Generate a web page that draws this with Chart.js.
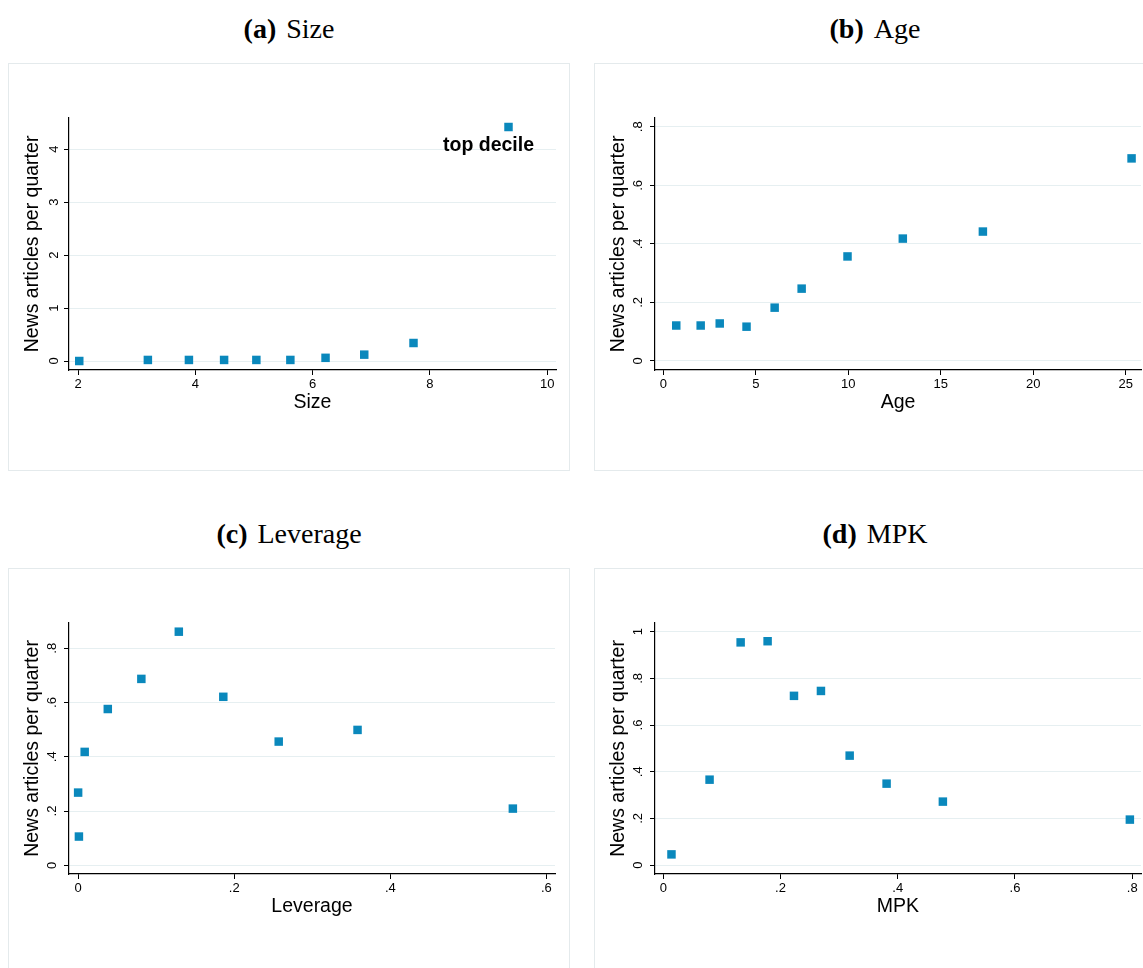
<!DOCTYPE html>
<html>
<head>
<meta charset="utf-8">
<script src="https://cdn.jsdelivr.net/npm/chart.js@4.4.1/dist/chart.umd.min.js"></script>
<style>
  html, body { margin: 0; padding: 0; background: #fff; width: 1143px; height: 968px; overflow: hidden; }
  .panel { position: absolute; width: 562px; height: 408px; box-sizing: border-box; border: 1px solid #e4eaec; }
  .panel canvas { position: absolute; left: -1px; top: -1px; }
  .title { position: absolute; width: 562px; text-align: center; font-family: "Liberation Serif", serif;
           font-size: 28px; line-height: 34px; color: #000; }
  .title b { margin-right: 10px; }
</style>
</head>
<body>

<div class="title" style="left:8px; top:12px;"><b>(a)</b>Size</div>
<div class="title" style="left:594px; top:12px;"><b>(b)</b>Age</div>
<div class="title" style="left:8px; top:517px;"><b>(c)</b>Leverage</div>
<div class="title" style="left:594px; top:517px;"><b>(d)</b>MPK</div>

<div class="panel" style="left:8px; top:63px;"><canvas id="size-chart" width="562" height="408"></canvas></div>
<div class="panel" style="left:594px; top:63px;"><canvas id="age-chart" width="562" height="408"></canvas></div>
<div class="panel" style="left:8px; top:568px;"><canvas id="lev-chart" width="562" height="408"></canvas></div>
<div class="panel" style="left:594px; top:568px;"><canvas id="mpk-chart" width="562" height="408"></canvas></div>

<script>
// Datos: articulos por trimestre segun decil
const sizeX = [2.02, 3.19, 3.89, 4.49, 5.04, 5.62, 6.22, 6.88, 7.72, 9.34];
const sizeY = [0.00, 0.02, 0.02, 0.02, 0.02, 0.02, 0.06, 0.12, 0.34, 4.42];
const sizeLabels = ['', '', '', '', '', '', '', '', '', 'top decile'];

const ageX = [0.70, 2.02, 3.05, 4.50, 6.02, 7.48, 9.96, 12.95, 17.28, 25.32];
const ageY = [0.121, 0.121, 0.128, 0.117, 0.182, 0.247, 0.357, 0.418, 0.442, 0.692];

const levX = [0.000, 0.001, 0.0084, 0.038, 0.081, 0.129, 0.186, 0.257, 0.358, 0.557];
const levY = [0.268, 0.106, 0.418, 0.576, 0.687, 0.861, 0.621, 0.456, 0.499, 0.209];

const mpkX = [0.014, 0.079, 0.132, 0.178, 0.223, 0.269, 0.318, 0.381, 0.477, 0.796];
const mpkY = [0.046, 0.366, 0.954, 0.959, 0.725, 0.746, 0.469, 0.349, 0.272, 0.195];

// Ticks de los ejes
const sizeXTicks = [2, 4, 6, 8, 10];
const sizeXTickLabels = ['2', '4', '6', '8', '10'];
const sizeYTicks = [0, 1, 2, 3, 4];
const sizeYTickLabels = ['0', '1', '2', '3', '4'];

const ageXTicks = [0, 5, 10, 15, 20, 25];
const ageXTickLabels = ['0', '5', '10', '15', '20', '25'];
const ageYTicks = [0, 0.2, 0.4, 0.6, 0.8];
const ageYTickLabels = ['0', '.2', '.4', '.6', '.8'];

const levXTicks = [0, 0.2, 0.4, 0.6];
const levXTickLabels = ['0', '.2', '.4', '.6'];
const levYTicks = [0, 0.2, 0.4, 0.6, 0.8];
const levYTickLabels = ['0', '.2', '.4', '.6', '.8'];

const mpkXTicks = [0, 0.2, 0.4, 0.6, 0.8];
const mpkXTickLabels = ['0', '.2', '.4', '.6', '.8'];
const mpkYTicks = [0, 0.2, 0.4, 0.6, 0.8, 1];
const mpkYTickLabels = ['0', '.2', '.4', '.6', '.8', '1'];

const yTitle = 'News articles per quarter';
const markerColor = '#0a88bc';
const gridColor = '#e6eff1';
const fontFamily = '"Liberation Sans", Arial, sans-serif';

// Etiqueta de texto junto a un punto
const pointLabels = {
    id: 'pointLabels',
    afterDatasetsDraw(chart, args, opts) {
        if (!opts.labels) return;
        const ctx = chart.ctx;
        const meta = chart.getDatasetMeta(0);
        ctx.save();
        ctx.font = 'bold 19.5px ' + fontFamily;
        ctx.fillStyle = '#000';
        ctx.textAlign = 'center';
        ctx.textBaseline = 'middle';
        meta.data.forEach((pt, i) => {
            const txt = opts.labels[i];
            if (txt) ctx.fillText(txt, pt.x + opts.dx, pt.y + opts.dy);
        });
        ctx.restore();
    }
};

function makeChart(id, xs, ys, cfg) {
    const points = xs.map((x, i) => ({ x: x, y: ys[i] }));
    const area = cfg.area; // [left, top, right, bottom] dentro del canvas
    return new Chart(document.getElementById(id), {
        type: 'scatter',
        data: {
            datasets: [{
                data: points,
                pointStyle: 'rect',
                pointRadius: 6,
                pointBackgroundColor: markerColor,
                pointBorderWidth: 0,
                showLine: false
            }]
        },
        options: {
            responsive: false,
            animation: false,
            layout: {
                padding: { left: 0, top: area[1], right: 562 - area[2], bottom: 408 - area[3] - 60 }
            },
            plugins: {
                legend: { display: false },
                tooltip: { enabled: false },
                pointLabels: cfg.pointLabels || {}
            },
            scales: {
                x: {
                    type: 'linear',
                    min: cfg.xRange[0],
                    max: cfg.xRange[1],
                    afterFit: s => { s.height = 60; },
                    afterBuildTicks: s => { s.ticks = cfg.xTicks.map(v => ({ value: v })); },
                    grid: { drawOnChartArea: false, drawTicks: true, tickLength: 5, tickColor: '#000', tickWidth: 1 },
                    border: { display: true, color: '#000', width: 1.2 },
                    ticks: {
                        autoSkip: false, maxRotation: 0, minRotation: 0, padding: 2,
                        color: '#000', font: { family: fontFamily, size: 13 },
                        callback: (v, i) => cfg.xTickLabels[i]
                    },
                    title: {
                        display: true, text: cfg.xTitle, color: '#000',
                        font: { family: fontFamily, size: 19.5 },
                        padding: { top: 0, bottom: 16 }
                    }
                },
                y: {
                    type: 'linear',
                    min: cfg.yRange[0],
                    max: cfg.yRange[1],
                    afterFit: s => { s.width = area[0]; },
                    afterBuildTicks: s => { s.ticks = cfg.yTicks.map(v => ({ value: v })); },
                    grid: { color: gridColor, lineWidth: 1, drawTicks: true, tickLength: 5, tickColor: '#000', tickWidth: 1 },
                    border: { display: true, color: '#000', width: 1.2 },
                    ticks: {
                        autoSkip: false, minRotation: 90, maxRotation: 90, crossAlign: 'center', padding: 6,
                        color: '#000', font: { family: fontFamily, size: 13 },
                        callback: (v, i) => cfg.yTickLabels[i]
                    },
                    title: {
                        display: true, text: yTitle, color: '#000',
                        font: { family: fontFamily, size: 19.5 },
                        padding: { top: 13, bottom: 0 }
                    }
                }
            }
        },
        plugins: [pointLabels]
    });
}

makeChart('size-chart', sizeX, sizeY, {
    area: [61, 55, 548, 307],
    xRange: [1.845, 10.15], yRange: [-0.17, 4.59],
    xTicks: sizeXTicks, xTickLabels: sizeXTickLabels,
    yTicks: sizeYTicks, yTickLabels: sizeYTickLabels,
    xTitle: 'Size',
    pointLabels: { labels: sizeLabels, dx: -20, dy: 19 }
});

makeChart('age-chart', ageX, ageY, {
    area: [61, 55, 547, 307],
    xRange: [-0.45, 25.83], yRange: [-0.031, 0.83],
    xTicks: ageXTicks, xTickLabels: ageXTickLabels,
    yTicks: ageYTicks, yTickLabels: ageYTickLabels,
    xTitle: 'Age'
});

makeChart('lev-chart', levX, levY, {
    area: [61, 55, 547, 306],
    xRange: [-0.0117, 0.611], yRange: [-0.032, 0.893],
    xTicks: levXTicks, xTickLabels: levXTickLabels,
    yTicks: levYTicks, yTickLabels: levYTickLabels,
    xTitle: 'Leverage'
});

makeChart('mpk-chart', mpkX, mpkY, {
    area: [61, 55, 547, 306],
    xRange: [-0.0141, 0.815], yRange: [-0.038, 1.037],
    xTicks: mpkXTicks, xTickLabels: mpkXTickLabels,
    yTicks: mpkYTicks, yTickLabels: mpkYTickLabels,
    xTitle: 'MPK'
});
</script>
</body>
</html>
